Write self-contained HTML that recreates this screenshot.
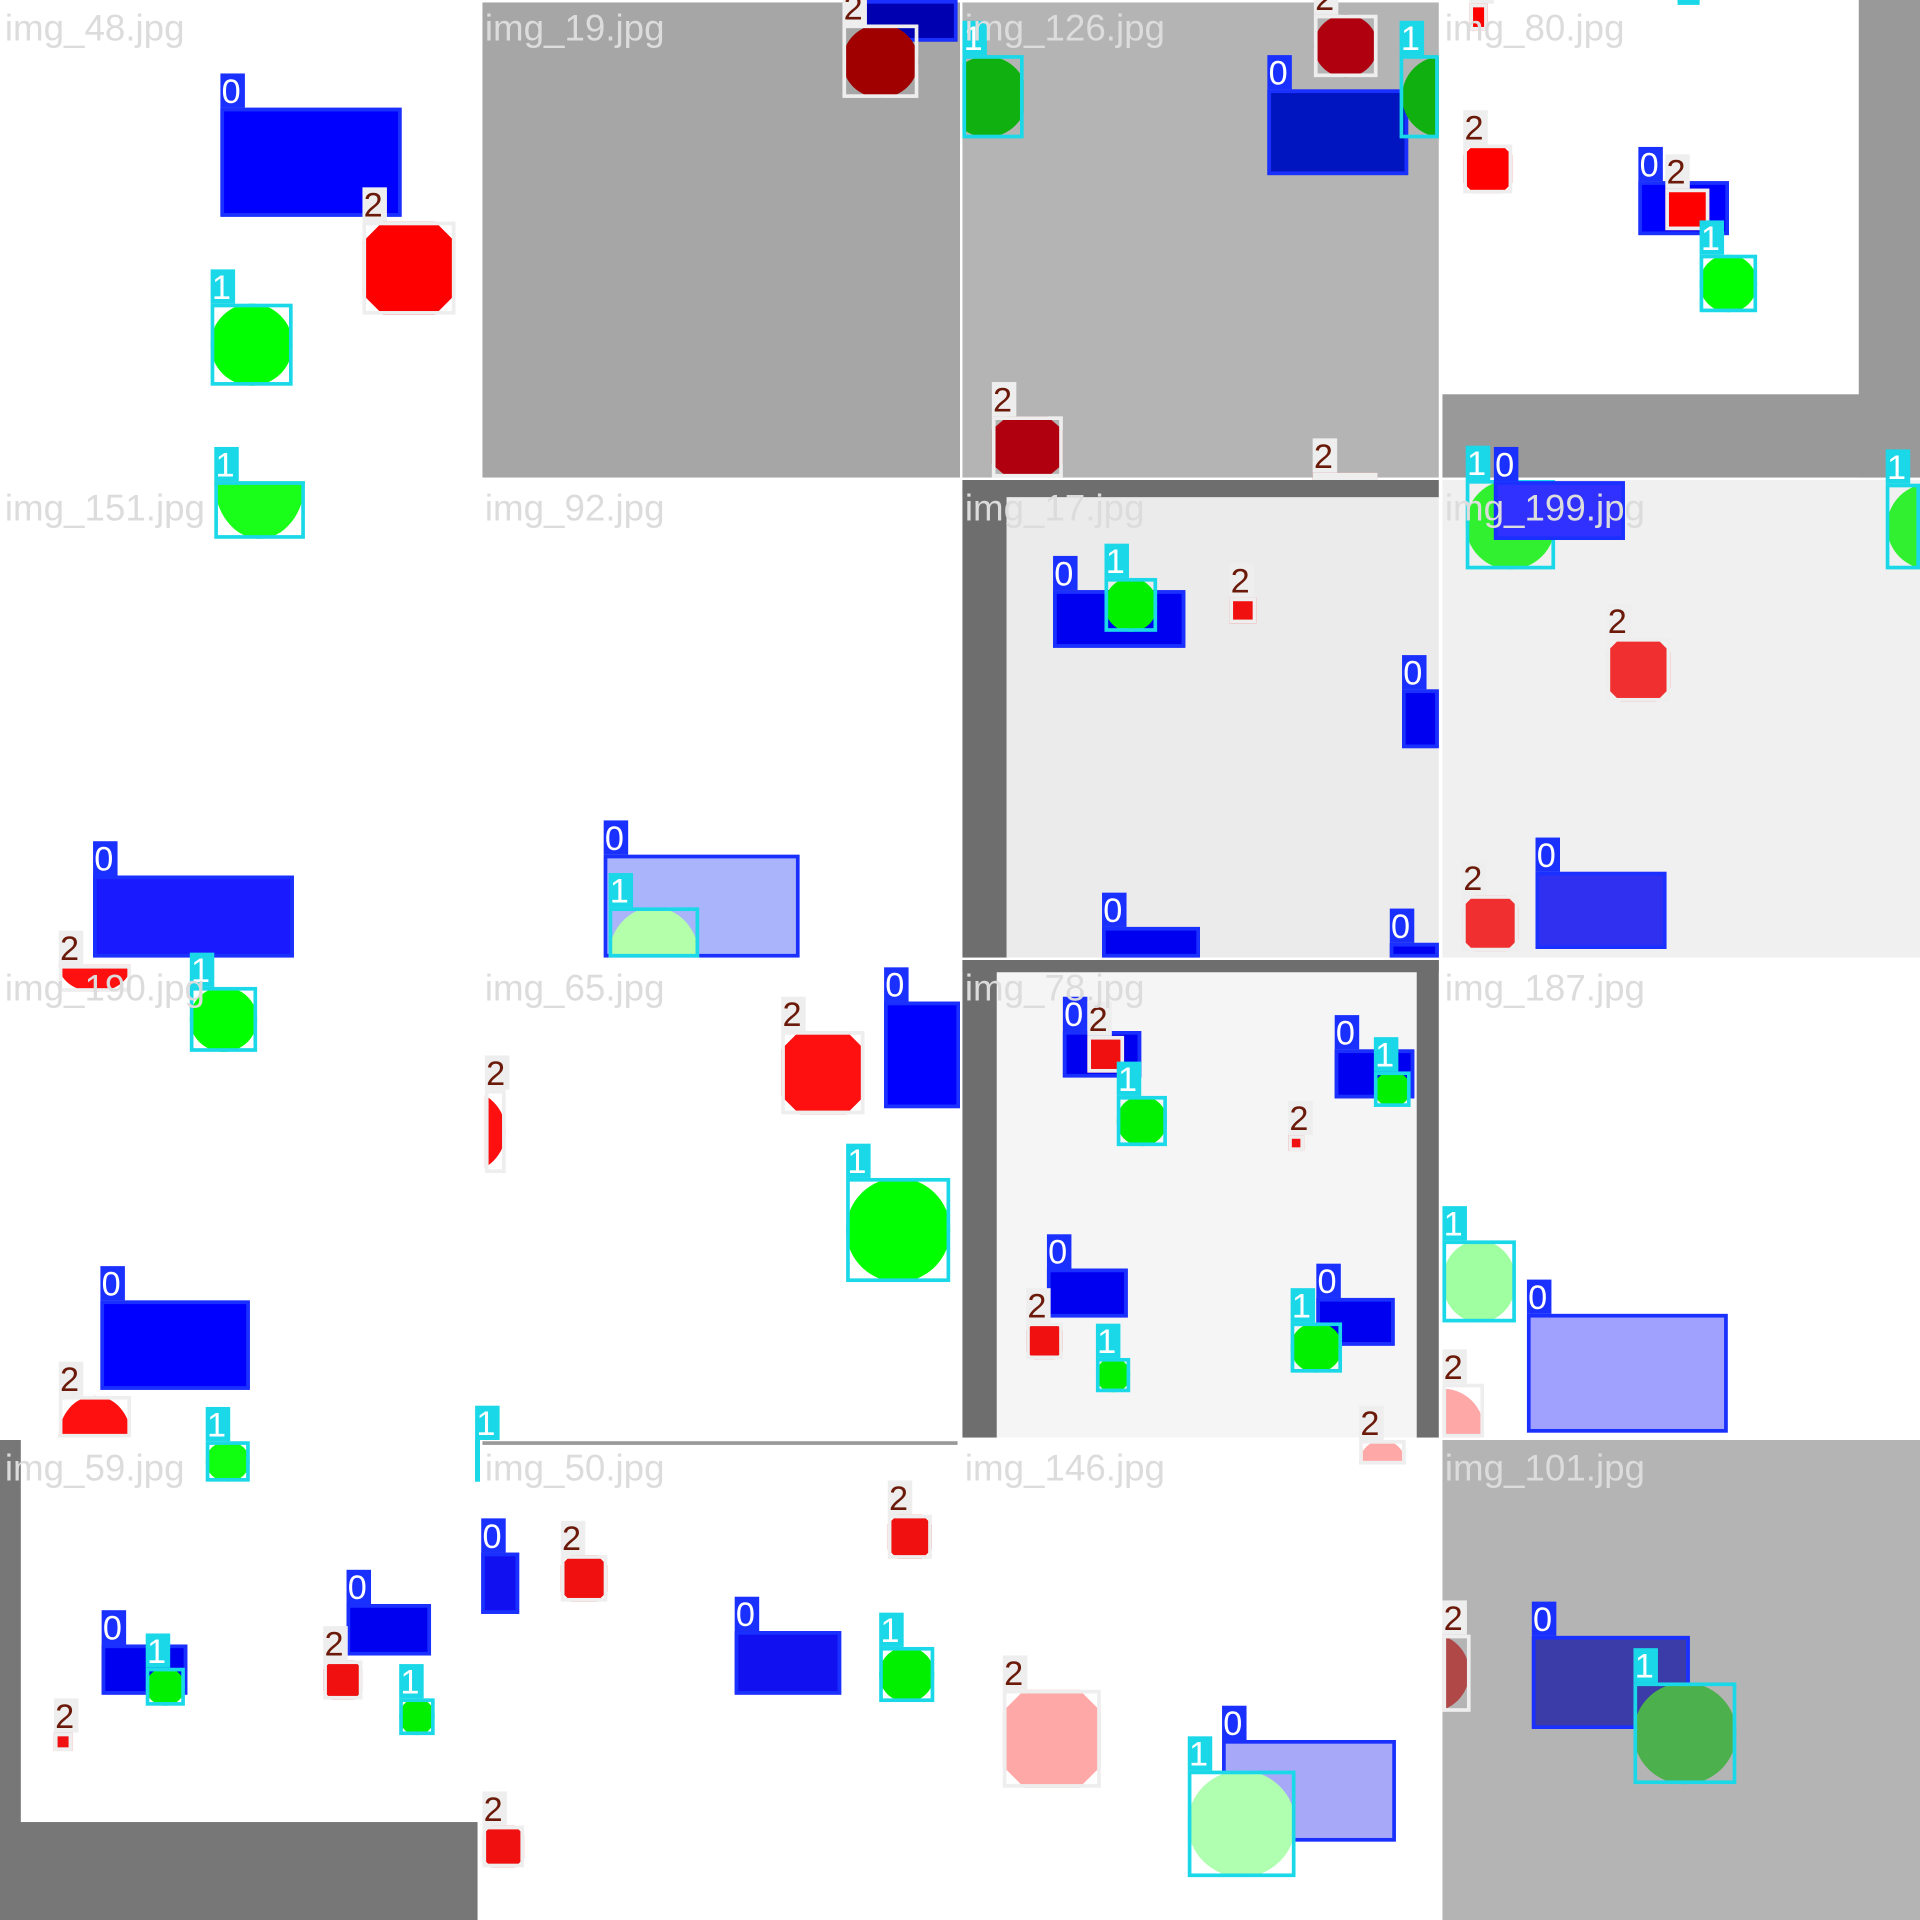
<!DOCTYPE html>
<html><head><meta charset="utf-8"><style>
html,body{margin:0;padding:0;background:#fff}
svg{display:block}
</style></head><body>
<svg id="mosaic" width="1920" height="1920" viewBox="0 0 1568 1568" xmlns="http://www.w3.org/2000/svg">
<defs id="defs"></defs>
<g id="bg">
<rect x="394" y="2" width="390" height="388" fill="#a6a6a6"/>
<rect x="786" y="2" width="389" height="388" fill="#b4b4b4"/>
<rect x="1518" y="0" width="50" height="390" fill="#999"/>
<rect x="1178" y="322" width="390" height="68" fill="#999"/>
<rect x="786" y="392" width="389" height="390" fill="#ebebeb"/>
<rect x="786" y="392" width="36" height="390" fill="#6e6e6e"/>
<rect x="786" y="392" width="389" height="14" fill="#6e6e6e"/>
<rect x="1178" y="392" width="390" height="390" fill="#f0f0f0"/>
<rect x="786" y="784" width="389" height="390" fill="#f5f5f5"/>
<rect x="786" y="784" width="28" height="390" fill="#6e6e6e"/>
<rect x="1157" y="784" width="18" height="390" fill="#6e6e6e"/>
<rect x="786" y="784" width="389" height="10" fill="#6e6e6e"/>
<rect x="0" y="1176" width="17" height="392" fill="#777"/>
<rect x="0" y="1488" width="390" height="80" fill="#777"/>
<rect x="394" y="1177" width="388" height="3" fill="#999"/>
<rect x="1178" y="1176" width="390" height="392" fill="#b4b4b4"/>
</g>
<g id="objs"></g>
<g id="names"></g>
</svg>
<script>
const NS="http://www.w3.org/2000/svg";
const objs=document.getElementById('objs');
const names=document.getElementById('names');
const defs=document.getElementById('defs');
// [class, x1,y1,x2,y2, shape, fill, (clipped circle cx,cy,r)]
const boxes=[
[0,180,88,328,177,'rect','#0000ff'],
[2,296,181,372,257,'oct','#ff0000'],
[1,172,248,239,315,'circ','#00ff00'],
[1,175,393,249,440,'half','#1aff1a'],
[0,705,0,782,34,'rect','#0000b0'],
[2,688,20,750,80,'circ','#a00000'],
[1,786,45,836,113,'cc','#10b010',806,79,33],
[0,1035,73,1150,143,'rect','#0015c0'],
[2,1073,12,1125,63,'circ','#b00010'],
[1,1143,45,1175,113,'cc','#10b010',1178,79,33],
[2,810,340,868,390,'oct','#b00010'],
[2,1072,386,1125,392,'rect','#b00010'],
[2,1195,118,1235,158,'oct','#ff0000'],
[0,1338,148,1412,192,'rect','#0000ff'],
[2,1360,154,1396,188,'rect','#ff0000'],
[1,1388,208,1435,255,'circ','#00ff00'],
[2,1200,3,1215,25,'rect','#ff0000'],
[1,1370,0,1388,2,'rect','#1ad8e8'],
[0,76,715,240,782,'rect','#1a1aff'],
[2,48,788,107,810,'half','#ff1010'],
[0,493,698,653,782,'rect','#aab4fa'],
[1,497,741,571,782,'halfu','#b4ffaa'],
[0,860,482,968,529,'rect','#0000f0'],
[1,902,472,945,516,'circ','#00f000'],
[2,1004,488,1026,509,'rect','#f01010'],
[0,1145,563,1175,611,'rect','#0000f0'],
[0,900,757,980,782,'rect','#0000f0'],
[0,1135,770,1175,782,'rect','#0000f0'],
[1,1197,392,1270,465,'circ','#30f030'],
[0,1220,393,1327,441,'rect','#3030ff'],
[2,1312,521,1364,573,'oct','#f03030'],
[2,1194,731,1240,777,'oct','#f03030'],
[0,1254,712,1361,775,'rect','#3030f0'],
[1,1540,395,1568,465,'cc','#30f030',1576,430,35],
[1,155,806,210,859,'circ','#00ff00'],
[0,82,1062,204,1135,'rect','#0000ff'],
[2,48,1140,107,1174,'halfu','#ff1010'],
[1,168,1177,204,1210,'circ','#10ff10'],
[2,396,890,413,958,'cc','#ff1010',379,924,34],
[2,638,842,706,910,'oct','#ff1010'],
[0,722,818,784,905,'rect','#0000ff'],
[1,691,962,776,1047,'circ','#00ff00'],
[0,868,842,932,880,'rect','#0000f0'],
[2,888,846,918,876,'rect','#f01010'],
[1,912,895,953,936,'circ','#00f000'],
[2,1052,927,1065,940,'rect','#f01010'],
[0,1090,857,1155,897,'rect','#0000f0'],
[1,1122,875,1152,904,'circ','#00f000'],
[0,855,1036,921,1076,'rect','#0000f0'],
[2,838,1080,868,1110,'oct','#f01010'],
[1,895,1109,923,1137,'circ','#00f000'],
[0,1075,1060,1139,1099,'rect','#0000f0'],
[1,1054,1080,1096,1121,'circ','#00f000'],
[1,1178,1013,1238,1080,'circ','#a0ffa0'],
[0,1247,1073,1411,1170,'rect','#a0a0ff'],
[2,1178,1130,1212,1174,'cc','#ffa8a8',1178,1168,34],
[2,1110,1176,1148,1196,'halfu','#ffa8a8'],
[0,83,1343,153,1384,'rect','#0000f0'],
[1,119,1362,151,1393,'circ','#00f000'],
[2,44,1415,59,1430,'rect','#f01010'],
[0,283,1310,352,1352,'rect','#0000f0'],
[2,264,1356,296,1388,'oct','#f01010'],
[1,326,1387,355,1417,'circ','#00f000'],
[1,388,1176,392,1210,'rect','#1ad8e8'],
[0,393,1268,424,1318,'rect','#1010f0'],
[2,458,1270,496,1308,'oct','#f01010'],
[2,725,1237,761,1273,'oct','#f01010'],
[0,600,1332,687,1384,'rect','#1010f0'],
[1,718,1345,763,1390,'circ','#00f000'],
[2,394,1491,428,1525,'oct','#f01010'],
[2,819,1380,899,1460,'oct','#ffa8a8'],
[0,998,1421,1140,1504,'rect','#a8a8f8'],
[1,970,1446,1058,1533,'circ','#b0ffb0'],
[2,1178,1335,1201,1398,'cc','#b04848',1168,1366,32],
[0,1251,1336,1380,1412,'rect','#3c3ca8'],
[1,1334,1374,1418,1457,'circ','#4cb04c']
];
const tileNames=['img_48.jpg','img_19.jpg','img_126.jpg','img_80.jpg','img_151.jpg','img_92.jpg','img_17.jpg','img_199.jpg','img_190.jpg','img_65.jpg','img_78.jpg','img_187.jpg','img_59.jpg','img_50.jpg','img_146.jpg','img_101.jpg'];
const strokeC=['#1a30ff','#1ad8e8','#eeeeee'];
const labBg=['#1a30ff','#1ad8e8','#eeeeee'];
const labFg=['#ffffff','#ffffff','#6b1a0a'];
function mk(t,a){const e=document.createElementNS(NS,t);for(const k in a)e.setAttribute(k,a[k]);return e;}
boxes.forEach((b,i)=>{
  const [c,x1,y1,x2,y2,sh,f]=b;const w=x2-x1,h=y2-y1,cx=(x1+x2)/2,cy=(y1+y2)/2;
  let s;
  if(sh==='rect') s=mk('rect',{x:x1,y:y1,width:w,height:h,fill:f});
  else if(sh==='circ') s=mk('ellipse',{cx:cx,cy:cy,rx:w/2,ry:h/2,fill:f});
  else if(sh==='cc'){
    const cp=mk('clipPath',{id:'cp'+i});cp.appendChild(mk('rect',{x:x1,y:y1,width:w,height:h}));defs.appendChild(cp);
    s=mk('circle',{cx:b[7],cy:b[8],r:b[9],fill:f,'clip-path':'url(#cp'+i+')'});
  }
  else if(sh==='oct'){const k=0.22;s=mk('polygon',{points:[[x1+w*k,y1],[x2-w*k,y1],[x2,y1+h*k],[x2,y2-h*k],[x2-w*k,y2],[x1+w*k,y2],[x1,y2-h*k],[x1,y1+h*k]].map(p=>p.join(',')).join(' '),fill:f});}
  else if(sh==='half') s=mk('path',{d:`M${x1},${y1} L${x2},${y1} A${w/2},${h} 0 0 1 ${x1},${y1} Z`,fill:f});
  else s=mk('path',{d:`M${x1},${y2} A${w/2},${h} 0 0 1 ${x2},${y2} Z`,fill:f});
  
  
  objs.appendChild(s);
  const bx=mk('rect',{x:x1+1.5,y:y1+1.5,width:Math.max(w-3,1),height:Math.max(h-3,1),fill:'none',stroke:strokeC[c],'stroke-width':3});
  
  
  objs.appendChild(bx);
  const lb=mk('rect',{x:x1,y:y1-28,width:20,height:28,fill:labBg[c]});
  
  
  objs.appendChild(lb);
  const lt=mk('text',{x:x1+1,y:y1-4,fill:labFg[c],'font-family':'Liberation Sans, sans-serif','font-size':28});
  lt.textContent=String(c);
  
  
  objs.appendChild(lt);
});
tileNames.forEach((n,i)=>{
  const x=(i%4)*392+4,y=Math.floor(i/4)*392+33;
  const t=mk('text',{x:x,y:y,fill:'#dcdcdc','font-family':'Liberation Sans, sans-serif','font-size':30});
  t.textContent=n;
  
  
  names.appendChild(t);
});
</script>
</body></html>
